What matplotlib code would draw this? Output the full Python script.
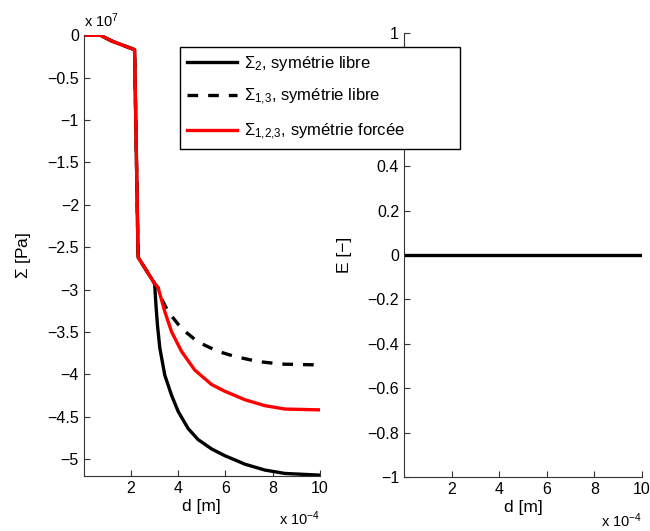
import matplotlib
matplotlib.use("Agg")
import matplotlib.pyplot as plt
import numpy as np
from matplotlib.ticker import FuncFormatter

plt.rcParams["font.family"] = ["Liberation Sans", "DejaVu Sans"]
plt.rcParams["mathtext.fontset"] = "custom"
plt.rcParams["mathtext.rm"] = "Liberation Sans"
plt.rcParams["mathtext.it"] = "Liberation Sans"
plt.rcParams["mathtext.sf"] = "Liberation Sans"

# d in 1e-4 m, sigma in 1e7 Pa
d_common = [0.0, 0.7, 1.2, 2.15, 2.3, 3.0]
s_common = [0.0, 0.0, -0.07, -0.17, -2.62, -2.93]

d_s2 = [3.06, 3.12, 3.22, 3.43, 3.72, 4.0, 4.42, 4.84, 5.41, 5.97,
        6.4, 6.82, 7.67, 8.52, 10.0]
s_s2 = [-3.2, -3.42, -3.69, -4.01, -4.25, -4.44, -4.64, -4.77, -4.88, -4.96,
        -5.01, -5.06, -5.13, -5.17, -5.19]

d_s13 = [3.15, 3.22, 3.57, 4.14, 4.84, 5.69, 6.4, 7.39, 8.38, 10.0]
s_s13 = [-2.98, -3.07, -3.26, -3.46, -3.62, -3.73, -3.79, -3.85, -3.88, -3.89]

d_s123 = [3.15, 3.43, 3.72, 4.14, 4.7, 5.41, 5.97, 6.4, 6.82, 7.67, 8.52, 10.0]
s_s123 = [-2.98, -3.26, -3.50, -3.73, -3.95, -4.12, -4.20, -4.25, -4.30,
          -4.37, -4.41, -4.42]

d_E = [0.0, 10.0]
E_vals = [0.0, 0.0]

labels = [r"$\Sigma_2$, symétrie libre",
          r"$\Sigma_{1{,}3}$, symétrie libre",
          r"$\Sigma_{1{,}2{,}3}$, symétrie forcée"]

x_scale = 1e-4
y_scale = 1e7


def join(dx, sy):
    x = np.array(d_common + dx) * x_scale
    y = np.array(s_common + sy) * y_scale
    return x, y


def fmt(v):
    v = round(v, 6)
    if v == 0:
        return "0"
    return ("%g" % v).replace("-", "\u2212")


fig = plt.figure(figsize=(6.5, 5.31), dpi=100)
ax1 = fig.add_axes([0.129, 0.1036, 0.363, 0.830])
ax2 = fig.add_axes([0.6215, 0.1017, 0.366, 0.836])

x, y = join(d_s2, s_s2)
l1, = ax1.plot(x, y, color="black", lw=2.4, label=labels[0])
x, y = join(d_s13, s_s13)
l2, = ax1.plot(x, y, color="black", lw=2.4, ls=(0, (3.2, 3.0)), label=labels[1])
x, y = join(d_s123, s_s123)
l3, = ax1.plot(x, y, color="red", lw=2.4, label=labels[2])

ax1.set_xlim(0, 10e-4)
ax1.set_ylim(-5.2e7, 0)
ax1.set_xticks(np.arange(2, 11, 2) * x_scale)
ax1.set_yticks(np.arange(-5, 0.01, 0.5) * y_scale)
ax1.xaxis.set_major_formatter(FuncFormatter(lambda v, p: fmt(v / x_scale)))
ax1.yaxis.set_major_formatter(FuncFormatter(lambda v, p: fmt(v / y_scale)))
ax1.set_xlabel("d [m]", fontsize=12.5, labelpad=2)
ax1.set_ylabel(r"$\Sigma$ [Pa]", fontsize=12.5, labelpad=10)
ax1.text(0.0, 1.012, r"x 10$^{7}$", transform=ax1.transAxes, fontsize=10.5, va="bottom", ha="left")
ax1.text(1.0, -0.112, r"x 10$^{-4}$", transform=ax1.transAxes, fontsize=10.5, va="baseline", ha="right")

ax2.plot(np.array(d_E) * x_scale, E_vals, color="black", lw=2.4)
ax2.set_xlim(0, 10e-4)
ax2.set_ylim(-1, 1)
ax2.set_xticks(np.arange(2, 11, 2) * x_scale)
ax2.set_yticks(np.round(np.arange(-1, 1.01, 0.2), 1))
ax2.xaxis.set_major_formatter(FuncFormatter(lambda v, p: fmt(v / x_scale)))
ax2.yaxis.set_major_formatter(FuncFormatter(lambda v, p: fmt(v)))
ax2.set_xlabel("d [m]", fontsize=12.5, labelpad=2)
ax2.set_ylabel("E [\u2212]", fontsize=12.5, labelpad=11)
ax2.text(1.0, -0.112, r"x 10$^{-4}$", transform=ax2.transAxes, fontsize=10.5, va="baseline", ha="right")

for ax in (ax1, ax2):
    ax.spines["top"].set_visible(False)
    ax.spines["right"].set_visible(False)
    ax.spines["left"].set_color("#333333")
    ax.spines["bottom"].set_color("#333333")
    ax.tick_params(direction="in", length=4, labelsize=11.5, color="#333333")

leg = fig.legend(handles=[l1, l2, l3], loc="upper left",
                 bbox_to_anchor=(180 / 650, 1 - 149 / 531, 280 / 650, 102 / 531),
                 mode="expand", fontsize=12,
                 handlelength=3.0, handletextpad=0.4, labelspacing=0.85,
                 borderpad=0.42, borderaxespad=0, fancybox=False,
                 framealpha=1, edgecolor="black")
leg.get_frame().set_linewidth(1.0)

fig.savefig("out.png", dpi=100)
